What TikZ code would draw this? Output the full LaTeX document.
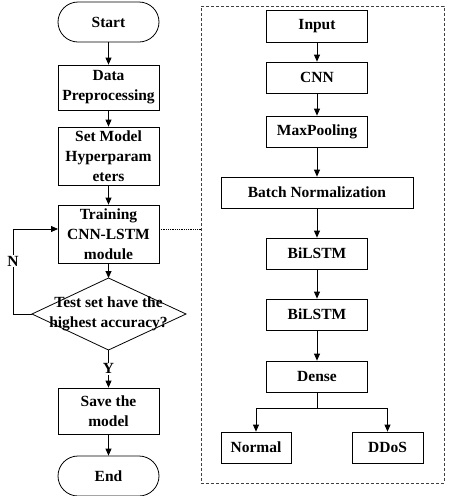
\documentclass[tikz,border=0pt]{standalone}
\usepackage{fontspec}
\setmainfont{Liberation Serif}
\usetikzlibrary{arrows.meta}
\begin{document}
\begin{tikzpicture}[x=1pt,y=-1pt,
  every node/.style={font=\bfseries\fontsize{15.5}{20}\selectfont, align=center, inner sep=0pt},
  box/.style={draw, line width=0.8pt, minimum width=101pt},
  term/.style={draw, line width=0.8pt, minimum width=101pt, minimum height=40pt, rounded corners=20pt},
  conn/.style={line width=0.8pt, -{Triangle[length=7pt,width=6pt]}},
  plain/.style={line width=0.8pt},
  lbl/.style={fill=white, inner sep=1pt}]
\useasboundingbox (0,0) rectangle (448,496);
% frame
\node[draw=black!75, densely dashed, line width=0.6pt, minimum width=243pt, minimum height=477pt] (frame) at (322.5,244.5) {};
% left column
\node[term] (start) at (108.5,22) {Start};
\node[box, minimum height=45pt] (data) at (108.5,87.5) {Data\\Preprocessing};
\node[box, minimum height=58pt] (set) at (108.5,156) {Set Model\\Hyperparam\\eters};
\node[box, minimum height=58pt] (train) at (108.5,234) {Training\\CNN-LSTM\\module};
\coordinate (dtop) at (108.5,278);
\coordinate (dbot) at (108.5,350);
\coordinate (dleft) at (32,314);
\coordinate (dright) at (186,314);
\draw[plain] (dtop) -- (dright) -- (dbot) -- (dleft) -- cycle;
\node (dec) at (108.5,314) {Test set have the\\highest accuracy?};
\node[box, minimum height=46pt] (save) at (108.5,411) {Save the\\model};
\node[term] (end) at (108.5,476) {End};
\coordinate (trin) at (58,229);
\coordinate (trout) at (159,229);
\coordinate (fb1) at (13,314);
\coordinate (fb2) at (13,229);
\draw[conn] (start) -- (data);
\draw[conn] (data) -- (set);
\draw[conn] (set) -- (train);
\draw[conn] (train) -- (dtop);
\draw[conn] (dbot) -- node[lbl, pos=0.5] (y) {Y} (save);
\draw[conn] (save) -- (end);
\draw[conn] (dleft) -- (fb1) -- node[lbl, pos=0.62] (n) {N} (fb2) -- (trin);
\draw[densely dotted, line width=0.8pt] (trout) -- (trout -| frame.west);
% right column
\node[box, minimum height=32pt] (input) at (317,26) {Input};
\node[box, minimum height=31pt] (cnn) at (317,77.5) {CNN};
\node[box, minimum height=31pt] (maxp) at (317,131.5) {MaxPooling};
\node[box, minimum height=31pt, minimum width=192pt] (bn) at (317,192.5) {Batch Normalization};
\node[box, minimum height=31pt] (bl1) at (317,253.5) {BiLSTM};
\node[box, minimum height=31pt] (bl2) at (317,314.5) {BiLSTM};
\node[box, minimum height=31pt] (dense) at (317,376.5) {Dense};
\node[box, minimum height=31pt, minimum width=70pt] (normal) at (256,447.5) {Normal};
\node[box, minimum height=31pt, minimum width=71pt] (ddos) at (387.5,447.5) {DDoS};
\coordinate (split) at (317,408);
\draw[conn] (input) -- (cnn);
\draw[conn] (cnn) -- (maxp);
\draw[conn] (maxp) -- (bn);
\draw[conn] (bn) -- (bl1);
\draw[conn] (bl1) -- (bl2);
\draw[conn] (bl2) -- (dense);
\draw[plain] (dense) -- (split);
\draw[conn] (split) -| (normal);
\draw[conn] (split) -| (ddos);
\end{tikzpicture}
\end{document}
